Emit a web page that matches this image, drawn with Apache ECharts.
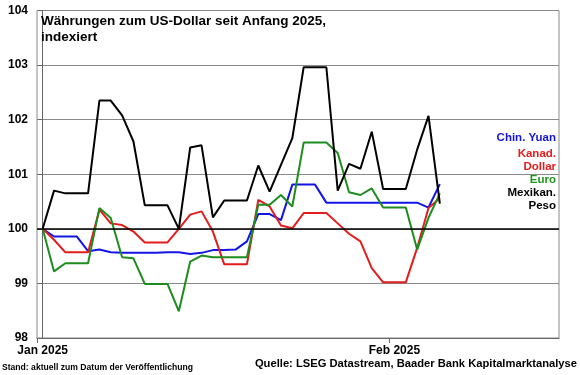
<!DOCTYPE html>
<html>
<head>
<meta charset="utf-8">
<script src="https://cdn.jsdelivr.net/npm/echarts@6/dist/echarts.min.js"></script>
<style>html,body{margin:0;padding:0;background:#fff}#c{width:580px;height:375px}</style>
</head>
<body>
<div id="c"></div>
<script>
// Tagesindex ab 1. Jan 2025 (0 = 1. Jan)
const dates = ['01.01','02.01','03.01','04.01','05.01','06.01','07.01','08.01','09.01','10.01','11.01','12.01','13.01','14.01','15.01','16.01','17.01','18.01','19.01','20.01','21.01','22.01','23.01','24.01','25.01','26.01','27.01','28.01','29.01','30.01','31.01','01.02','02.02','03.02','04.02','05.02'];
const yuan = [100, 99.86, 99.86, 99.86, 99.59, 99.62, 99.57, 99.56, 99.56, 99.56, 99.56, 99.57, 99.57, 99.54, 99.56, 99.61, 99.61, 99.62, 99.77, 100.27, 100.27, 100.16, 100.81, 100.81, 100.81, 100.48, 100.48, 100.48, 100.48, 100.48, 100.48, 100.48, 100.48, 100.48, 100.39, 100.82];
const cad = [100, 99.80, 99.57, 99.57, 99.57, 100.35, 100.10, 100.07, 99.95, 99.75, 99.75, 99.75, 100.00, 100.26, 100.32, 99.95, 99.35, 99.35, 99.35, 100.53, 100.41, 100.06, 100.01, 100.29, 100.29, 100.29, 100.10, 99.91, 99.77, 99.28, 99.02, 99.02, 99.02, 99.65, 100.38, 100.56];
const euro = [100, 99.22, 99.37, 99.37, 99.37, 100.38, 100.20, 99.48, 99.46, 98.99, 98.99, 98.99, 98.49, 99.40, 99.51, 99.48, 99.48, 99.48, 99.48, 100.44, 100.44, 100.62, 100.41, 101.58, 101.58, 101.58, 101.39, 100.67, 100.62, 100.74, 100.39, 100.39, 100.39, 99.62, 100.20, 100.65];
const peso = [100, 100.70, 100.65, 100.65, 100.65, 102.35, 102.35, 102.08, 101.60, 100.43, 100.43, 100.43, 100.00, 101.49, 101.53, 100.21, 100.52, 100.52, 100.52, 101.16, 100.68, 101.17, 101.66, 102.96, 102.96, 102.96, 100.70, 101.19, 101.10, 101.78, 100.73, 100.73, 100.73, 101.45, 102.07, 100.46];
const xTickLabels = ['Jan 2025', 'Feb 2025'];
const xLabelDays = [0, 31];
const yTicks = [98, 99, 100, 101, 102, 103, 104];

const FONT = '"Liberation Sans", Arial, sans-serif';
const toPts = arr => arr.map((v, i) => [i, v]);
const chart = echarts.init(document.getElementById('c'), null, {renderer: 'canvas'});

function line(name, data, color, extra) {
  return Object.assign({
    name, type: 'line', data: toPts(data), symbol: 'none',
    lineStyle: {color, width: 2}, itemStyle: {color}, animation: false
  }, extra || {});
}

chart.setOption({
  animation: false,
  grid: {left: 37, right: 21, top: 10.5, bottom: 37, show: true, borderColor: '#8a8a8a', borderWidth: 1},
  xAxis: {
    type: 'value', min: -0.5, max: 45.5,
    splitLine: {show: false},
    axisLine: {show: true, lineStyle: {color: '#666', width: 1}},
    axisTick: {show: true, length: 5, lineStyle: {color: '#666'}, customValues: [-0.5, 30.5]},
    axisLabel: {
      customValues: xLabelDays, margin: 7,
      formatter: v => xTickLabels[xLabelDays.indexOf(v)] || '',
      color: '#000', fontFamily: FONT, fontWeight: 'bold', fontSize: 12
    }
  },
  yAxis: {
    type: 'value', min: yTicks[0], max: yTicks[yTicks.length - 1], interval: 1,
    axisLine: {show: true, lineStyle: {color: '#666', width: 1}},
    axisTick: {show: true, inside: false, length: 5, lineStyle: {color: '#666'}},
    splitLine: {show: true, lineStyle: {color: '#8a8a8a', width: 1}},
    axisLabel: {margin: 9, color: '#000', fontFamily: FONT, fontWeight: 'bold', fontSize: 12}
  },
  series: [
    line('Chin. Yuan', yuan, '#1414e6', {
      markLine: {silent: true, symbol: 'none', label: {show: false},
        lineStyle: {color: '#000', width: 1.6, type: 'solid'}, data: [{yAxis: 100}], animation: false}
    }),
    line('Kanad. Dollar', cad, '#e41c1c'),
    line('Euro', euro, '#1e8c1e'),
    line('Mexikan. Peso', peso, '#000000')
  ],
  graphic: [
    {type: 'text', left: 41, top: 13, z: 100, style: {text: 'Währungen zum US-Dollar seit Anfang 2025,\nindexiert', font: 'bold 13.5px ' + FONT, fill: '#000', lineHeight: 16}},
    {type: 'text', x: 556, y: 138, z: 100, style: {text: 'Chin. Yuan', font: 'bold 11.5px ' + FONT, fill: '#1414d8', align: 'right', verticalAlign: 'middle'}},
    {type: 'text', x: 556, y: 154, z: 100, style: {text: 'Kanad.', font: 'bold 11.5px ' + FONT, fill: '#e41c1c', align: 'right', verticalAlign: 'middle'}},
    {type: 'text', x: 556, y: 167, z: 100, style: {text: 'Dollar', font: 'bold 11.5px ' + FONT, fill: '#e41c1c', align: 'right', verticalAlign: 'middle'}},
    {type: 'text', x: 556, y: 180, z: 100, style: {text: 'Euro', font: 'bold 11.5px ' + FONT, fill: '#1e961e', align: 'right', verticalAlign: 'middle'}},
    {type: 'text', x: 556, y: 193, z: 100, style: {text: 'Mexikan.', font: 'bold 11.5px ' + FONT, fill: '#000', align: 'right', verticalAlign: 'middle'}},
    {type: 'text', x: 556, y: 206, z: 100, style: {text: 'Peso', font: 'bold 11.5px ' + FONT, fill: '#000', align: 'right', verticalAlign: 'middle'}},
    {type: 'text', x: 2, y: 368, z: 100, style: {text: 'Stand: aktuell zum Datum der Veröffentlichung', font: 'bold 8.6px ' + FONT, fill: '#000', align: 'left', verticalAlign: 'middle'}},
    {type: 'text', x: 577, y: 364, z: 100, style: {text: 'Quelle: LSEG Datastream, Baader Bank Kapitalmarktanalyse', font: 'bold 11.2px ' + FONT, fill: '#000', align: 'right', verticalAlign: 'middle'}}
  ]
});
</script>
</body>
</html>
